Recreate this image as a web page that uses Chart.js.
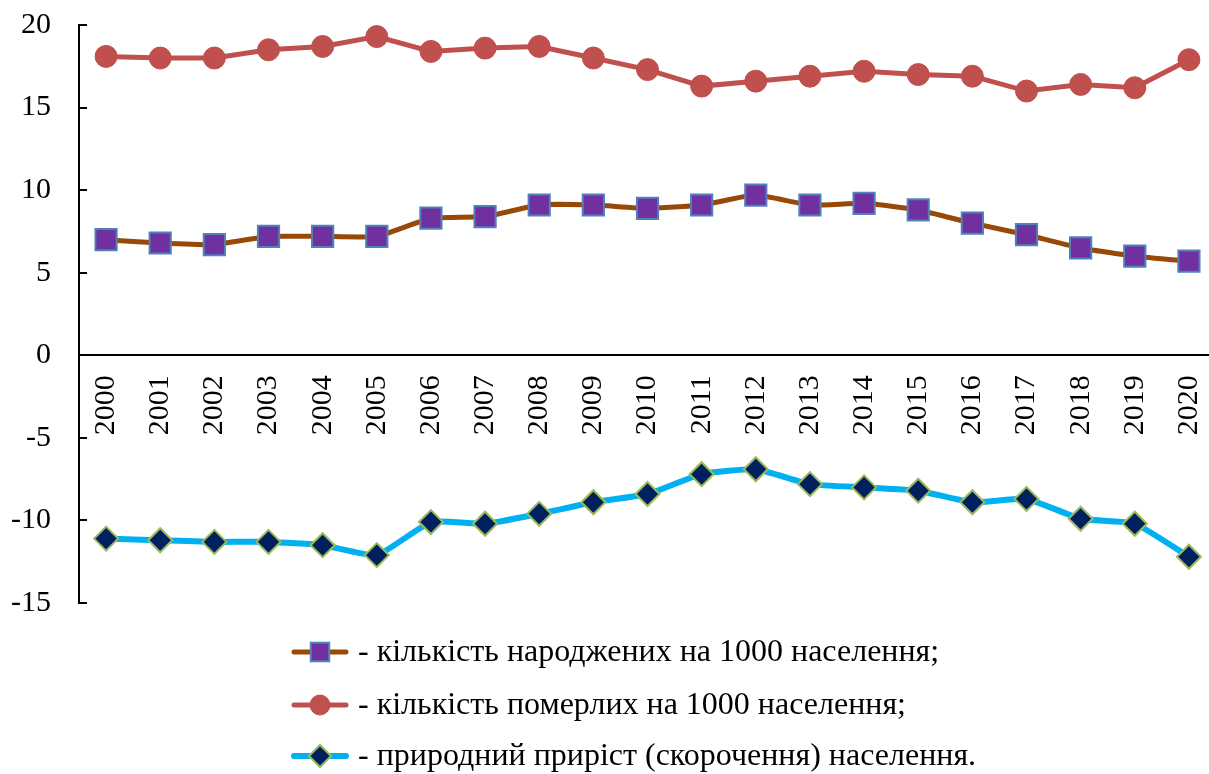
<!DOCTYPE html>
<html>
<head>
<meta charset="utf-8">
<script src="https://cdn.jsdelivr.net/npm/chart.js@4/dist/chart.umd.min.js"></script>
<style>
  html, body { margin: 0; padding: 0; background: #fff; overflow: hidden; }
  /* canvas is a bit wider than the page so the last category sits where it does in the original */
  #wrap { width: 1209px; height: 774px; overflow: hidden; }
</style>
</head>
<body>
<div id="wrap"><canvas id="chart" width="1233" height="774"></canvas></div>
<script>
const years = ['2000', '2001', '2002', '2003', '2004', '2005', '2006', '2007', '2008', '2009', '2010',
               '2011', '2012', '2013', '2014', '2015', '2016', '2017', '2018', '2019', '2020'];

const births  = [7.0, 6.8, 6.7, 7.2, 7.2, 7.2, 8.3, 8.4, 9.1, 9.1, 8.9, 9.1, 9.7, 9.1, 9.2, 8.8, 8.0, 7.3, 6.5, 6.0, 5.7];
const deaths  = [18.1, 18.0, 18.0, 18.5, 18.7, 19.3, 18.4, 18.6, 18.7, 18.0, 17.3, 16.3, 16.6, 16.9, 17.2, 17.0, 16.9, 16.0, 16.4, 16.2, 17.9];
const natural = [-11.1, -11.2, -11.3, -11.3, -11.5, -12.1, -10.1, -10.2, -9.6, -8.9, -8.4, -7.2, -6.9, -7.8, -8.0, -8.2, -8.9, -8.7, -9.9, -10.2, -12.2];

const legendLabels = [
  '- кількість народжених на 1000 населення;',
  '- кількість померлих на 1000 населення;',
  '- природний приріст (скорочення) населення.',
];

const yTicks = [20, 15, 10, 5, 0, -5, -10, -15];

const FONT = '"Liberation Serif", "Times New Roman", serif';

function noPadding(scale) {
  scale.paddingLeft = 0;
  scale.paddingRight = 0;
  scale.paddingTop = 0;
  scale.paddingBottom = 0;
}

// small tick marks drawn inside the plot, next to the y axis
const innerTicks = {
  id: 'innerTicks',
  afterDraw(chart) {
    const { ctx, chartArea, scales } = chart;
    ctx.save();
    ctx.strokeStyle = '#000';
    ctx.lineWidth = 2;
    yTicks.forEach(v => {
      const py = Math.round(scales.y.getPixelForValue(v));
      ctx.beginPath();
      ctx.moveTo(chartArea.left, py);
      ctx.lineTo(chartArea.left + 8, py);
      ctx.stroke();
    });
    ctx.restore();
  }
};

// legend with a line sample + marker per row
const lineLegend = {
  id: 'lineLegend',
  afterDraw(chart) {
    const ctx = chart.ctx;
    const rowsY = [652, 705, 756];
    ctx.save();
    chart.data.datasets.forEach((ds, i) => {
      const y = rowsY[i];
      ctx.strokeStyle = ds.borderColor;
      ctx.lineWidth = ds.borderWidth;
      ctx.lineCap = 'round';
      ctx.beginPath();
      ctx.moveTo(294, y);
      ctx.lineTo(346, y);
      ctx.stroke();
      ctx.fillStyle = ds.pointBackgroundColor;
      ctx.strokeStyle = ds.pointBorderColor;
      ctx.lineWidth = ds.pointBorderWidth;
      Chart.helpers.drawPoint(ctx, {
        pointStyle: ds.pointStyle,
        radius: ds.legendRadius,
        borderWidth: ds.pointBorderWidth,
        rotation: 0,
      }, 320, y);
      ctx.fillStyle = '#000';
      ctx.font = '32px ' + FONT;
      ctx.textAlign = 'left';
      ctx.textBaseline = 'middle';
      ctx.fillText(legendLabels[i], 358, y + 1);
    });
    ctx.restore();
  }
};

new Chart(document.getElementById('chart'), {
  type: 'line',
  data: {
    labels: years,
    datasets: [
      {
        data: births,
        borderColor: '#984807',
        borderWidth: 5,
        tension: 0.15,
        pointStyle: 'rect',
        pointRadius: 15,
        legendRadius: 13,
        pointBackgroundColor: '#7030a0',
        pointBorderColor: '#4f81bd',
        pointBorderWidth: 2,
      },
      {
        data: deaths,
        borderColor: '#c0504d',
        borderWidth: 5,
        tension: 0,
        pointStyle: 'circle',
        pointRadius: 11,
        legendRadius: 10,
        pointBackgroundColor: '#c0504d',
        pointBorderColor: '#c0504d',
        pointBorderWidth: 1,
      },
      {
        data: natural,
        borderColor: '#00b0f0',
        borderWidth: 6,
        tension: 0.15,
        pointStyle: 'rectRot',
        pointRadius: 12,
        legendRadius: 11,
        pointBackgroundColor: '#002060',
        pointBorderColor: '#9bbb59',
        pointBorderWidth: 2,
      },
    ],
  },
  options: {
    responsive: false,
    animation: false,
    layout: { padding: { left: 0, right: 0, top: 25, bottom: 171 } },
    plugins: { legend: { display: false }, tooltip: { enabled: false } },
    elements: { point: { hoverRadius: 12 } },
    scales: {
      x: {
        type: 'category',
        offset: true,
        position: { y: 0 },
        afterFit: noPadding,
        grid: { display: false, drawTicks: false },
        border: { display: true, color: '#000', width: 2 },
        ticks: {
          color: '#000',
          font: { family: FONT, size: 30 },
          minRotation: 90,
          maxRotation: 90,
          padding: 20,
          autoSkip: false,
        },
      },
      y: {
        min: -15,
        max: 20,
        afterFit(scale) { scale.width = 79; noPadding(scale); },
        grid: { display: false, drawTicks: false },
        border: { display: true, color: '#000', width: 2 },
        afterBuildTicks(scale) { scale.ticks = yTicks.map(v => ({ value: v })); },
        ticks: {
          color: '#000',
          font: { family: FONT, size: 30 },
          padding: 28,
        },
      },
    },
  },
  plugins: [innerTicks, lineLegend],
});
</script>
</body>
</html>
